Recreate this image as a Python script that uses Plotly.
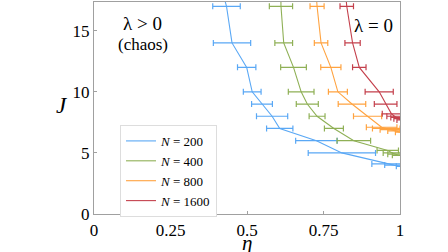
import plotly.graph_objects as go

# N = 200
J_200 = [20, 17, 14, 12, 10, 9, 8, 7, 6, 5, 4.1, 4.0, 3.9]
eta_200 = [0.40, 0.433, 0.451, 0.499, 0.517, 0.549, 0.582, 0.607, 0.727, 0.81, 0.955, 0.98, 1.0]
err_200 = [0.05, 0.045, 0.061, 0.030, 0.029, 0.034, 0.051, 0.043, 0.068, 0.11, 0.047, 0.03, 0.012]

# N = 400
J_400 = [20, 17, 14, 12, 10, 9, 8, 7, 6, 5.2, 5.0, 4.9, 4.8]
eta_400 = [0.61, 0.611, 0.620, 0.652, 0.677, 0.697, 0.729, 0.784, 0.849, 0.96, 0.975, 0.985, 0.995]
err_400 = [0.04, 0.038, 0.029, 0.042, 0.042, 0.036, 0.026, 0.031, 0.055, 0.035, 0.03, 0.025, 0.02]

# N = 800
J_800 = [20, 17, 14, 12, 10, 9, 8, 7.1, 7.0, 6.9, 6.8, 6.7]
eta_800 = [0.72, 0.729, 0.742, 0.774, 0.797, 0.843, 0.894, 0.94, 0.955, 0.97, 0.985, 1.0]
err_800 = [0.03, 0.023, 0.022, 0.033, 0.031, 0.045, 0.046, 0.05, 0.045, 0.035, 0.025, 0.015]

# N = 1600
J_1600 = [20, 17, 14, 12, 10, 9, 8.2, 8.0, 7.9, 7.8, 7.7]
eta_1600 = [0.815, 0.826, 0.845, 0.867, 0.932, 0.953, 0.972, 0.982, 0.99, 0.995, 1.0]
err_1600 = [0.02, 0.022, 0.025, 0.022, 0.046, 0.037, 0.03, 0.025, 0.02, 0.015, 0.01]

series = [
    ("<i>N</i> = 200", J_200, eta_200, err_200, "#5aa8f5"),
    ("<i>N</i> = 400", J_400, eta_400, err_400, "#8fb056"),
    ("<i>N</i> = 800", J_800, eta_800, err_800, "#ffa340"),
    ("<i>N</i> = 1600", J_1600, eta_1600, err_1600, "#c4404c"),
]

x_ticks = [0, 0.25, 0.5, 0.75, 1]
x_tick_labels = ["0", "0.25", "0.5", "0.75", "1"]
y_ticks = [0, 5, 10, 15]

FONT = "Times New Roman"
TICKFONT = dict(family=FONT, size=17, color="black")

fig = go.Figure()
for name, J, eta, err, col in series:
    fig.add_trace(go.Scatter(
        x=eta, y=J, mode="lines", name=name,
        line=dict(color=col, width=1.1),
        error_x=dict(type="data", array=err, visible=True, color=col, thickness=1.2, width=3),
    ))

fig.add_annotation(x=0.16, y=15.6, xref="x", yref="y", text="λ > 0", showarrow=False,
                   font=dict(family=FONT, size=19, color="black"))
fig.add_annotation(x=0.16, y=13.9, xref="x", yref="y", text="(chaos)", showarrow=False,
                   font=dict(family=FONT, size=17, color="black"))
fig.add_annotation(x=0.915, y=15.4, xref="x", yref="y", text="λ = 0", showarrow=False,
                   font=dict(family=FONT, size=19, color="black"))
# axis titles
fig.add_annotation(x=0.5, y=-0.138, xref="paper", yref="paper", text="<i>η</i>", showarrow=False,
                   yanchor="middle", font=dict(family=FONT, size=21, color="black"))
fig.add_annotation(x=-0.105, y=0.51, xref="paper", yref="paper", text="<i>J</i>", showarrow=False,
                   xanchor="center", font=dict(family=FONT, size=23, color="black"))

fig.update_layout(
    width=448, height=252,
    margin=dict(l=94, r=48, t=2, b=38, autoexpand=False),
    paper_bgcolor="white", plot_bgcolor="white",
    font=dict(family=FONT, size=16, color="black"),
    showlegend=True,
    legend=dict(x=0.085, y=0.42, xanchor="left", yanchor="top",
                bgcolor="white", bordercolor="#dddddd", borderwidth=1,
                font=dict(family=FONT, size=13), tracegroupgap=0,
                itemwidth=30),
    xaxis=dict(range=[0, 1], tickvals=x_ticks, ticktext=x_tick_labels, tickfont=TICKFONT,
               automargin=False,
               showgrid=False, zeroline=False, showline=True, linecolor="#a0a0a0",
               linewidth=1.2, mirror=True, ticks="inside", ticklen=3, tickcolor="#a0a0a0"),
    yaxis=dict(range=[0, 17.35], tickvals=y_ticks, tickfont=TICKFONT, automargin=False,
               showgrid=False, zeroline=False, showline=True, linecolor="#a0a0a0",
               linewidth=1.2, mirror=True, ticks="inside", ticklen=3, tickcolor="#a0a0a0"),
)

fig.write_html("out.html", config={"displayModeBar": False},
               post_script="document.body.style.margin='0';document.body.style.overflow='hidden';")
